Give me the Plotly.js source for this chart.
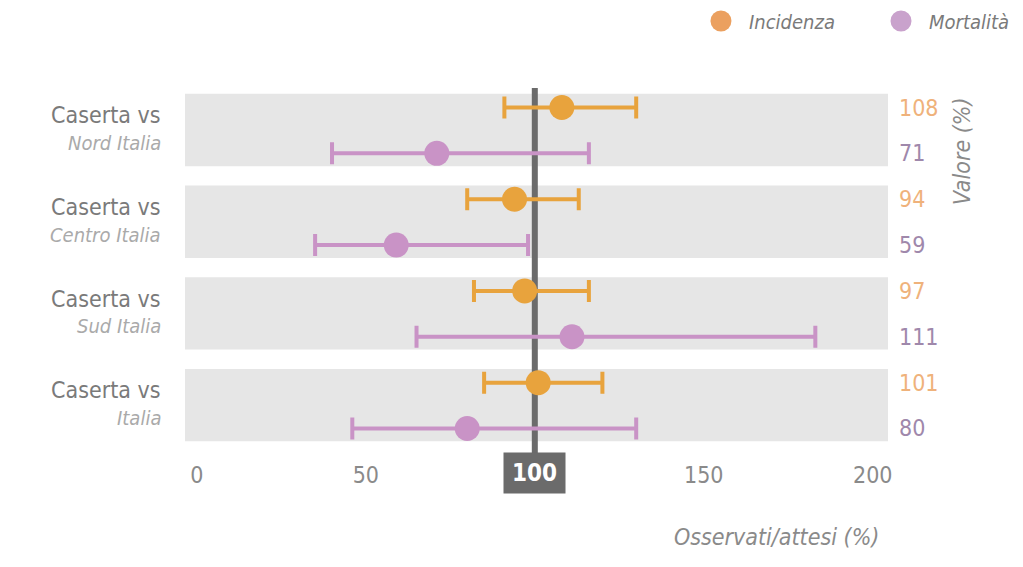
<!DOCTYPE html>
<html>
<head>
<meta charset="utf-8">
<script src="https://cdn.plot.ly/plotly-3.0.1.min.js"></script>
<style>html,body{margin:0;padding:0;background:#fff;}</style>
</head>
<body>
<div id="chart" style="width:1023px;height:567px;"></div>
<script>
// ---- data ----
const regions = ["Nord Italia", "Centro Italia", "Sud Italia", "Italia"];
const prefix = "Caserta vs";
const incidenza = [108, 94, 97, 101];
const incidenzaLow = [91, 80, 82, 85];
const incidenzaHigh = [130, 113, 116, 120];
const mortalita = [71, 59, 111, 80];
const mortalitaLow = [40, 35, 65, 46];
const mortalitaHigh = [116, 98, 183, 130];
const tickValues = [0, 50, 100, 150, 200];
const referenceValue = 100;
const seriesNames = ["Incidenza", "Mortalità"];

// ---- styling ----
const FONT = "'Liberation Sans Narrow', 'Arial Narrow', 'DejaVu Sans Condensed', sans-serif";
const ORANGE = "#E8A33D";
const PURPLE = "#C993C6";
const ORANGE_TXT = "#EFB27B";
const PURPLE_TXT = "#9F88AB";

// rows: group k -> incidenza at -2k, mortalita at -2k-1
const yInc = regions.map((_, k) => -2 * k);
const yMor = regions.map((_, k) => -2 * k - 1);

function trace(vals, lows, highs, ys, color, name) {
  return {
    type: "scatter", mode: "markers", name: name,
    x: vals, y: ys,
    marker: {size: 25, color: color},
    error_x: {
      type: "data", symmetric: false,
      array: vals.map((v, i) => highs[i] - v),
      arrayminus: vals.map((v, i) => v - lows[i]),
      color: color, thickness: 4, width: 11
    },
    showlegend: false, hoverinfo: "skip", cliponaxis: false
  };
}

const data = [
  trace(incidenza, incidenzaLow, incidenzaHigh, yInc, ORANGE, seriesNames[0]),
  trace(mortalita, mortalitaLow, mortalitaHigh, yMor, PURPLE, seriesNames[1])
];

const shapes = [];
regions.forEach((_, k) => {
  shapes.push({type: "rect", xref: "paper", yref: "y", x0: 0, x1: 1,
    y0: -2 * k - 1.28, y1: -2 * k + 0.3, fillcolor: "#E6E6E6", line: {width: 0}, layer: "below"});
});
shapes.push({type: "line", xref: "x", yref: "paper", x0: referenceValue, x1: referenceValue,
  y0: 0.0, y1: 0.979, line: {color: "#6B6B6B", width: 6}, layer: "below"});
// legend dots
[[0.7624, "#EBA05F"], [1.0185, "#C9A2CC"]].forEach(([px, c]) => {
  shapes.push({type: "circle", xref: "paper", yref: "paper", xsizemode: "pixel", ysizemode: "pixel",
    xanchor: px, yanchor: 1.157, x0: -10.5, x1: 10.5, y0: -10.5, y1: 10.5,
    fillcolor: c, line: {width: 0}});
});

const annotations = [];
regions.forEach((r, k) => {
  annotations.push({xref: "paper", yref: "y", x: -0.031, y: -2 * k - 0.17, xanchor: "right", yanchor: "middle",
    text: prefix, showarrow: false, font: {family: FONT, size: 23, color: "#7A7A7A"}});
  annotations.push({xref: "paper", yref: "y", x: -0.031, y: -2 * k - 0.77, xanchor: "right", yanchor: "middle",
    text: "<i>" + r + "</i>", showarrow: false, font: {family: FONT, size: 20, color: "#AAAAAA"}});
  annotations.push({xref: "paper", yref: "y", x: 1.0128, y: yInc[k], xanchor: "left", yanchor: "middle",
    text: String(incidenza[k]), showarrow: false, font: {family: FONT, size: 23, color: ORANGE_TXT}});
  annotations.push({xref: "paper", yref: "y", x: 1.0128, y: yMor[k], xanchor: "left", yanchor: "middle",
    text: String(mortalita[k]), showarrow: false, font: {family: FONT, size: 23, color: PURPLE_TXT}});
});
annotations.push({xref: "x", yref: "paper", x: referenceValue, y: -0.045, xanchor: "center", yanchor: "middle",
  text: "<b>" + referenceValue + "</b>", showarrow: false, bgcolor: "#6B6B6B", width: 61, height: 40, borderpad: 0,
  font: {family: FONT, size: 24, color: "#FFFFFF"}});
annotations.push({xref: "paper", yref: "paper", x: 1.105, y: 0.811, xanchor: "center", yanchor: "middle",
  textangle: -90, text: "<i>Valore (%)</i>", showarrow: false, font: {family: FONT, size: 23, color: "#8A8A8A"}});
annotations.push({xref: "paper", yref: "paper", x: 0.99, y: -0.215, xanchor: "right", yanchor: "middle",
  text: "<i>Osservati/attesi (%)</i>", showarrow: false, font: {family: FONT, size: 23, color: "#8A8A8A"}});
annotations.push({xref: "paper", yref: "paper", x: 0.7994, y: 1.154, xanchor: "left", yanchor: "middle",
  text: "<i>" + seriesNames[0] + "</i>", showarrow: false, font: {family: FONT, size: 20, color: "#7A7A7A"}});
annotations.push({xref: "paper", yref: "paper", x: 1.0555, y: 1.154, xanchor: "left", yanchor: "middle",
  text: "<i>" + seriesNames[1] + "</i>", showarrow: false, font: {family: FONT, size: 20, color: "#7A7A7A"}});

const layout = {
  width: 1023, height: 567,
  margin: {l: 185, r: 135, t: 80, b: 111},
  paper_bgcolor: "#FFFFFF", plot_bgcolor: "#FFFFFF",
  showlegend: false,
  xaxis: {
    range: [-3.5, 204.5], showgrid: false, zeroline: false, showline: false, ticks: "",
    tickvals: tickValues.filter(v => v !== referenceValue),
    ticktext: tickValues.filter(v => v !== referenceValue).map(String),
    ticklabelstandoff: 3,
    tickfont: {family: FONT, size: 23, color: "#8A8A8A"}, fixedrange: true
  },
  yaxis: {
    range: [-7.6, 0.6], showgrid: false, zeroline: false, showline: false,
    showticklabels: false, ticks: "", fixedrange: true
  },
  shapes: shapes,
  annotations: annotations
};

Plotly.newPlot("chart", data, layout, {displayModeBar: false, staticPlot: true});
</script>
</body>
</html>
